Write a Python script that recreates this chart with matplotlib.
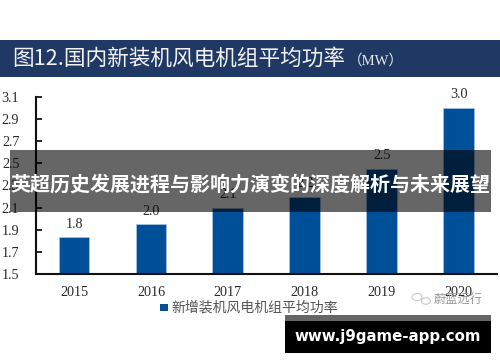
import matplotlib
matplotlib.use("Agg")
from matplotlib import pyplot as plt
from matplotlib.patches import Rectangle, Circle

years = ["2015", "2016", "2017", "2018", "2019", "2020"]
values = [1.83, 1.95, 2.10, 2.20, 2.45, 3.00]
value_labels = ["1.8", "2.0", "2.1", "2.2", "2.5", "3.0"]
yticks = [1.5, 1.7, 1.9, 2.1, 2.3, 2.5, 2.7, 2.9, 3.1]

title = "图12.国内新装机风电机组平均功率"
unit = "（MW）"
legend_name = "新增装机风电机组平均功率"
banner = "英超历史发展进程与影响力演变的深度解析与未来展望"
site = "www.j9game-app.com"
wechat = "蔚蓝远行"

W, H = 500, 362
CJK = ["Noto Sans CJK SC", "DejaVu Sans"]
SERIF = ["Liberation Serif", "DejaVu Serif"]


def fx(x):
    return x / W


def fy(y):
    return 1 - y / H


def box(x0, y0, x1, y1, **kw):
    # pixel box, y measured from the top of the picture
    r = Rectangle((fx(x0), fy(y1)), (x1 - x0) / W, (y1 - y0) / H,
                  transform=fig.transFigure, linewidth=0, **kw)
    fig.add_artist(r)
    return r


fig = plt.figure(figsize=(5, 3.62), dpi=100)

box(0, 40, 500, 76.5, color="#1f3864", zorder=1)
fig.text(fx(12), fy(59), title, family=CJK, fontsize=15.6, color="#f2f2f2",
         va="center", ha="left", zorder=2)
fig.text(fx(348), fy(61), unit, family=SERIF + ["Noto Sans CJK SC"], fontsize=10.5,
         color="#e8e8e8", va="center", ha="left", zorder=2)

ax = fig.add_axes([fx(36), fy(274), (497 - 36) / W, (274 - 97) / H])
ax.bar(range(len(years)), values, width=0.40, color="#004f99",
       edgecolor="#a9c6e4", linewidth=0.5, label=legend_name)
for i, v in enumerate(values):
    ax.text(i, v + 0.06, value_labels[i], family=SERIF, fontsize=10.2,
            color="#2b2b2b", ha="center", va="bottom")

ax.set_xlim(-0.495, 5.5)
ax.set_ylim(1.5, 3.1)
ax.set_yticks(yticks)
ax.set_yticklabels(["%.1f" % t for t in yticks], family=SERIF, fontsize=10.2,
                   color="#2b2b2b")
ax.set_xticks(range(len(years)))
ax.set_xticklabels(years, family=SERIF, fontsize=10.2, color="#2b2b2b")
ax.tick_params(axis="y", direction="in", length=4, width=1.2, pad=12)
ax.tick_params(axis="x", length=0, pad=9)
for s in ["top", "right"]:
    ax.spines[s].set_visible(False)
ax.spines["left"].set_linewidth(1.5)
ax.spines["bottom"].set_linewidth(1.5)
ax.spines["left"].set_color("#111111")
ax.spines["bottom"].set_color("#111111")

# legend
box(160, 304, 168, 311, color="#004f99", zorder=3)
fig.text(fx(171), fy(308), legend_name, family=CJK, fontsize=10, color="#555555",
         va="center", ha="left", zorder=3)

# wechat mark
for cx, cy, r in [(417, 297, 5), (426, 301, 4.5)]:
    fig.add_artist(Circle((fx(cx), fy(cy)), r / W, transform=fig.transFigure,
                          fill=False, edgecolor="#c4c4c4", linewidth=0.7, zorder=5))
fig.text(fx(434), fy(299), wechat, family=CJK, fontsize=8.8, color="#9a9a9a",
         va="center", ha="left", zorder=5)

# overlays
box(10, 150, 491, 212, color="#000000", alpha=0.6, zorder=6)
fig.text(fx(250.5), fy(184), banner, family=CJK, fontsize=14.4, weight="bold",
         color="white", va="center", ha="center", zorder=7)

box(285, 315, 491, 321, color="#666666", zorder=6)
box(285, 321, 491, 353, color="#000000", zorder=6)
fig.text(fx(387.5), fy(336.5), site, family=["DejaVu Sans"], fontsize=10.8, weight="bold",
         color="white", va="center", ha="center", zorder=7)

fig.savefig("out.png", dpi=100)
